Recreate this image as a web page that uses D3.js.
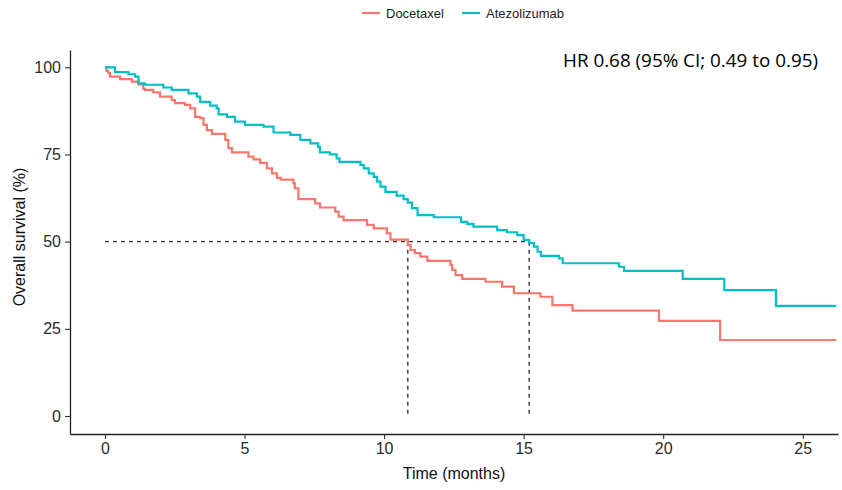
<!DOCTYPE html>
<html>
<head>
<meta charset="utf-8">
<script src="https://cdn.jsdelivr.net/npm/d3@7"></script>
<style>
  body { margin: 0; background: #fff; }
  svg text { font-family: "Liberation Sans", Arial, sans-serif; }
</style>
</head>
<body>
<div class="container"></div>
<script>
// Kaplan-Meier steps (months, % surviving)
const docTime = [0, 0.05, 0.12, 0.18, 0.54, 0.96, 1.2, 1.37, 1.43, 1.73, 1.97, 2.39, 2.51, 2.87, 3.05, 3.23, 3.41, 3.53, 3.65, 3.83,
  4.31, 4.42, 4.55, 5.14, 5.32, 5.56, 5.8, 5.98, 6.16, 6.3, 6.75, 6.8, 6.93, 7.53, 7.7, 8.25, 8.37, 8.55, 9.39, 9.63,
  10.1, 10.23, 10.85, 10.95, 11.1, 11.3, 11.55, 12.38, 12.44, 12.56, 12.8, 13.63, 14.23, 14.65, 15.6, 16.03, 16.75,
  19.85, 22.04, 26.2];
const docSurv = [100, 99, 98.3, 97.3, 96.6, 95.9, 95.1, 93.9, 93.5, 92.8, 91.6, 90.6, 89.7, 89.2, 88.2, 85.8, 85.4, 83.5, 82, 80.9,
  79.2, 76.8, 75.6, 74.4, 73.6, 72.6, 71, 69.6, 68.3, 67.8, 66.8, 65.3, 62.2, 61, 59.8, 58.6, 57.2, 56.2, 54.8, 53.8,
  52.4, 50.6, 49, 47.6, 46.7, 45.7, 44.5, 43.3, 41.9, 40.4, 39.3, 38.5, 37.1, 35.2, 34.2, 31.8, 30.2,
  27.3, 21.8, 21.8];

const atzTime = [0, 0.36, 0.84, 1.08, 1.2, 1.43, 2.09, 2.39, 2.99, 3.29, 3.41, 3.77, 4.0, 4.07, 4.37, 4.66, 5.02, 5.68, 6.04,
  6.64, 7.0, 7.36, 7.64, 7.7, 8.06, 8.3, 8.4, 9.15, 9.27, 9.45, 9.63, 9.75, 9.87, 10.05, 10.45, 10.7, 10.85, 11.0, 11.2,
  11.78, 12.76, 12.98, 13.2, 14.05, 14.4, 14.77, 15.0, 15.2, 15.37, 15.5, 15.62, 16.27, 16.4, 18.42, 18.6, 20.7, 22.19,
  24.04, 26.2];
const atzSurv = [100, 98.6, 98, 97.3, 95.4, 95, 94.2, 93.5, 92.5, 91.6, 90.1, 89, 88.2, 86.5, 85.8, 84.4, 83.5, 83, 81.3,
  80.6, 79.2, 78.2, 77.2, 75.6, 75, 73.9, 72.9, 72, 71, 69.6, 68.6, 67.2, 65.8, 64.3, 63.2, 62.2, 61.2, 59.6, 57.6,
  57, 55.7, 55.1, 54.3, 53.3, 52.7, 51.9, 50.5, 49.6, 48.6, 47.1, 45.9, 45.2, 43.8, 42.8, 41.6, 39.3, 36.1,
  31.6, 31.6];

const groups = ['Docetaxel', 'Atezolizumab'];
const colors = ['#F8766D', '#00BFC4'];
const medians = [10.85, 15.2];
const xTicks = [0, 5, 10, 15, 20, 25];
const yTicks = [0, 25, 50, 75, 100];

const W = 842, H = 490;
const margin = {top: 50, right: 4, bottom: 56, left: 70};
const width = W - margin.left - margin.right;
const height = H - margin.top - margin.bottom;

const svg = d3.select('.container')
  .append('svg')
  .attr('width', W)
  .attr('height', H);
const g = svg.append('g')
  .attr('transform', `translate(${margin.left},${margin.top})`);

const xScale = d3.scaleLinear().domain([-1.254, 26.265]).range([0, width]);
const yScale = d3.scaleLinear().domain([-5.16, 104.96]).range([height, 0]);

// median guide lines
const dash = g.append('g')
  .style('stroke', '#333')
  .style('stroke-width', '1.4px')
  .style('stroke-dasharray', '4,4')
  .style('fill', 'none');
dash.append('line')
  .attr('x1', xScale(0)).attr('x2', xScale(d3.max(medians)))
  .attr('y1', yScale(50)).attr('y2', yScale(50));
medians.forEach(m => {
  dash.append('line')
    .attr('x1', xScale(m)).attr('x2', xScale(m))
    .attr('y1', yScale(50)).attr('y2', yScale(0));
});

// survival curves
const line = d3.line()
  .x(d => xScale(d[0]))
  .y(d => yScale(d[1]))
  .curve(d3.curveStepAfter);
const series = [
  docTime.map((t, i) => [t, docSurv[i]]),
  atzTime.map((t, i) => [t, atzSurv[i]])
];
g.selectAll('path.km')
  .data(series)
  .enter().append('path')
  .attr('class', 'km')
  .attr('d', line)
  .style('fill', 'none')
  .style('stroke', (d, i) => colors[i])
  .style('stroke-width', '2.2px');

// axes
const xAxis = g.append('g')
  .attr('transform', `translate(0,${height})`)
  .call(d3.axisBottom(xScale).tickValues(xTicks).tickSize(5).tickPadding(4).tickSizeOuter(0));
const yAxis = g.append('g')
  .call(d3.axisLeft(yScale).tickValues(yTicks).tickSize(5).tickPadding(4).tickSizeOuter(0));
[xAxis, yAxis].forEach(a => {
  a.select('.domain').attr('stroke', '#222').attr('stroke-width', 1.3);
  a.selectAll('.tick line').attr('stroke', '#333').attr('stroke-width', 1.1);
  a.selectAll('.tick text')
    .style('font-size', '16px')
    .style('font-family', '"Liberation Sans", Arial, sans-serif')
    .attr('fill', '#2a2a2a');
});

// axis titles
svg.append('text')
  .attr('x', 454).attr('y', 479)
  .attr('text-anchor', 'middle')
  .style('font-size', '16px')
  .attr('fill', '#111')
  .text('Time (months)');
svg.append('text')
  .attr('transform', 'translate(25,237) rotate(-90)')
  .attr('text-anchor', 'middle')
  .style('font-size', '16px')
  .attr('fill', '#111')
  .text('Overall survival (%)');

// legend
const legend = svg.append('g');
const legX = [362, 462];
groups.forEach((name, i) => {
  legend.append('line')
    .attr('x1', legX[i]).attr('x2', legX[i] + 18)
    .attr('y1', 13).attr('y2', 13)
    .style('stroke', colors[i])
    .style('stroke-width', '2.2px');
  legend.append('text')
    .attr('x', legX[i] + 24).attr('y', 18)
    .style('font-size', '13px')
    .attr('fill', '#222')
    .text(name);
});

// hazard ratio note
svg.append('text')
  .attr('x', 563).attr('y', 67)
  .attr('textLength', 255)
  .attr('lengthAdjust', 'spacingAndGlyphs')
  .style('font-size', '19px')
  .style('font-family', '"Open Sans", "Noto Sans", sans-serif')
  .attr('fill', '#000')
  .text('HR 0.68 (95% CI; 0.49 to 0.95)');
</script>
</body>
</html>
